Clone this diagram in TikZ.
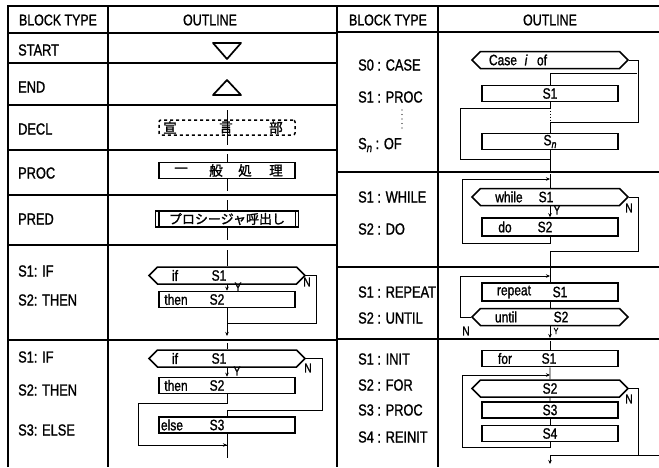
\documentclass[tikz,border=0pt]{standalone}
\usepackage{fontspec}
\setmainfont{Liberation Sans}[FakeStretch=0.8, FakeBold=1.2]
\newfontfamily\jpfont{Noto Sans CJK JP}[FakeBold=1.5]
\usetikzlibrary{shapes.symbols,arrows.meta}
\begin{document}
\begin{tikzpicture}[x=1pt,y=-1pt,
  tline/.style={line width=1.2pt},
  conn/.style={line width=0.9pt},
  box/.style={draw, line width=1.5pt, rectangle, inner sep=0pt, minimum width=136pt, minimum height=16pt, font=\fontsize{15}{15}\selectfont},
  hexa/.style={draw, line width=1.5pt, signal, signal to=west and east, signal pointer angle=90, inner sep=0pt, minimum width=156pt, minimum height=17pt, font=\fontsize{15}{15}\selectfont},
  lbl/.style={anchor=west, inner sep=0pt, font=\fontsize{16}{16}\selectfont},
  hd/.style={inner sep=0pt, font=\fontsize{15.5}{15.5}\selectfont},
  bt/.style={inner sep=0pt, font=\fontsize{15}{15}\selectfont},
  yn/.style={inner sep=0pt, font=\fontsize{13}{13}\selectfont},
  jp/.style={inner sep=0pt, font=\jpfont\fontsize{13.5}{13.5}\selectfont},
  arr/.style={-{Stealth[length=4pt,width=3.5pt]}},
]
\useasboundingbox (0,0) rectangle (659,467);
\fill[white] (0,0) rectangle (659,467);
% ---------------- table ----------------
\draw[tline] (8,467) -- (8,6) -- (659,6);
\draw[tline] (108,6) -- (108,467);
\draw[tline] (337,6) -- (337,467);
\draw[tline] (438,6) -- (438,467);
\foreach \y in {33,63,105,150,195,245,340} \draw[tline] (8,\y) -- (337,\y);
\foreach \y in {32,172,267,339} \draw[tline] (337,\y) -- (659,\y);
% headers
\node[hd] (h1) at (58,20) {BLOCK TYPE};
\node[hd] (h2) at (210,20) {OUTLINE};
\node[hd] (h3) at (388,20) {BLOCK TYPE};
\node[hd] (h4) at (550,20) {OUTLINE};
% left labels
\node[lbl] (l1) at (18,50) {START};
\node[lbl] (l2) at (18,87) {END};
\node[lbl] (l3) at (18,129) {DECL};
\node[lbl] (l4) at (18,173) {PROC};
\node[lbl] (l5) at (18,219) {PRED};
\node[lbl] (l6) at (18,271) {S1: IF};
\node[lbl] (l7) at (18,300) {S2: THEN};
\node[lbl] (l8) at (18,357) {S1: IF};
\node[lbl] (l9) at (18,390) {S2: THEN};
\node[lbl] (l10) at (18,430) {S3: ELSE};
% right labels
\node[lbl] (r1) at (358,65) {S0 : CASE};
\node[lbl] (r2) at (358,97) {S1 : PROC};
\draw[line width=1.4pt, line cap=round, dash pattern=on 0pt off 4.5pt] (402,110) -- (402,131);
\node[lbl] (r3) at (358,145) {S\raisebox{-0.35ex}{\fontsize{12}{12}\selectfont\itshape n} : OF};
\node[lbl] (r4) at (358,197) {S1 : WHILE};
\node[lbl] (r5) at (358,229) {S2 : DO};
\node[lbl] (r6) at (358,292) {S1 : REPEAT};
\node[lbl] (r7) at (358,318) {S2 : UNTIL};
\node[lbl] (r8) at (358,359) {S1 : INIT};
\node[lbl] (r9) at (358,385) {S2 : FOR};
\node[lbl] (r10) at (358,410) {S3 : PROC};
\node[lbl] (r11) at (358,437) {S4 : REINIT};
% ---------------- left outlines ----------------
\draw[line width=1.7pt, line join=round] (213,43) -- (241,43) -- (227,59) -- cycle;
\draw[line width=1.7pt, line join=round] (213,95) -- (241,95) -- (227,80) -- cycle;
% DECL
\coordinate (dA) at (227,110);
\coordinate (dB) at (227,145);
\draw[conn] (dA) -- (dB);
\node[box, dashed, rounded corners=2pt, minimum width=136pt, minimum height=15pt] (decl) at (227,127.5) {};
\node[jp] (d1) at (170,127.5) {宣};
\node[jp] (d2) at (226,127.5) {言};
\node[jp] (d3) at (276,127.5) {部};
% PROC
\coordinate (pA) at (227,154);
\coordinate (pB) at (227,191);
\node[box] (proc) at (227,170.5) {};
\draw[conn] (pA) -- (proc);
\draw[conn] (proc) -- (pB);
\node[jp] (p1) at (181,170.5) {一};
\node[jp] (p2) at (216,170.5) {般};
\node[jp] (p3) at (245,170.5) {処};
\node[jp] (p4) at (276,170.5) {理};
% PRED
\coordinate (qA) at (227,200);
\coordinate (qB) at (227,240);
\node[box, minimum width=143pt] (pred) at (227,219) {};
\draw[line width=1.5pt] ([xshift=4pt]pred.north west) -- ([xshift=4pt]pred.south west);
\draw[line width=1.5pt] ([xshift=-4pt]pred.north east) -- ([xshift=-4pt]pred.south east);
\draw[conn] (qA) -- (pred);
\draw[conn] (pred) -- (qB);
\node[jp, font=\jpfont\fontsize{13}{13}\selectfont] (predt) at (227,219) {プロシージャ呼出し};
% IF - THEN
\coordinate (a1) at (227,250);
\node[hexa] (if1) at (227,275.5) {};
\node[bt] (if1a) at (175,275.5) {if};
\node[bt] (if1b) at (219,275.5) {S1};
\node[box] (th1) at (227,299.5) {};
\node[bt] (th1a) at (176,299.5) {then};
\node[bt] (th1b) at (217,299.5) {S2};
\coordinate (j1) at (227,323);
\coordinate (e1) at (227,336);
\draw[conn] (a1) -- (if1);
\draw[conn, arr] (if1) -- (th1);
\node[yn] (y1) at (238,287) {Y};
\draw[conn] (if1.east) -- ++(10,0) |- (j1);
\node[yn] (n1) at (307,282) {N};
\draw[conn, arr] (th1) -- (e1);
% IF - THEN - ELSE
\coordinate (a2) at (227,343);
\node[hexa] (if2) at (227,358.5) {};
\node[bt] (if2a) at (175,358.5) {if};
\node[bt] (if2b) at (219,358.5) {S1};
\node[box] (th2) at (227,385.5) {};
\node[bt] (th2a) at (176,385.5) {then};
\node[bt] (th2b) at (217,385.5) {S2};
\node[box] (el2) at (227,425) {};
\node[bt] (el2a) at (172,425) {else};
\node[bt] (el2b) at (217,425) {S3};
\coordinate (k2) at (138,403);
\coordinate (m2) at (227,445);
\coordinate (n2) at (227,410);
\coordinate (z2) at (227,458);
\draw[conn] (a2) -- (if2);
\draw[conn, arr] (if2) -- (th2);
\node[yn] (y2) at (237,371) {Y};
\draw[conn] (if2.east) -- ++(16,0) |- (n2);
\node[yn] (n2l) at (308,368) {N};
\draw[conn] (th2) |- (k2) |- (m2);
\draw[conn, arr] (k2 |- m2) -- (m2);
\draw[conn] (n2) -- (el2);
\draw[conn] (el2) -- (z2);
% ---------------- right outlines ----------------
% CASE
\node[hexa] (cs) at (550,60) {};
\node[bt] (csa) at (503,60) {Case};
\node[bt] (csb) at (526,60) {\itshape i};
\node[bt] (csc) at (542,60) {of};
\node[box] (s1) at (550,93.5) {S1};
\node[box] (sn) at (550,141.5) {S\raisebox{-0.35ex}{\fontsize{11}{11}\selectfont\itshape n}};
\coordinate (c0) at (637,73);
\coordinate (c1) at (550,73);
\coordinate (c2) at (550,122);
\coordinate (c3) at (550,108);
\coordinate (c4) at (460,108);
\coordinate (c5) at (550,159);
\coordinate (c6) at (550,171);
\draw[conn] (cs.east) -- ++(9,0) |- (c2);
\draw[conn] (c0) -- (c1) -- (s1);
\draw[conn] (s1) |- (c4) |- (c5);
\draw[conn, dotted] (c3) -- (c2);
\draw[conn] (c2) -- (sn);
\draw[conn] (sn) -- (c6);
% WHILE
\coordinate (w0) at (550,174);
\node[hexa] (wh) at (550,197) {};
\node[bt] (wha) at (509,197) {while};
\node[bt] (whb) at (546,197) {S1};
\node[box, minimum height=18pt] (do) at (550,227) {};
\node[bt] (doa) at (505,227) {do};
\node[bt] (dob) at (545,227) {S2};
\coordinate (w1) at (550,179);
\coordinate (w2) at (462,243);
\coordinate (w3) at (550,251);
\coordinate (w4) at (550,266);
\draw[conn] (w0) -- (wh);
\draw[conn, arr] (wh) -- (do);
\node[yn] (y3) at (557,210) {Y};
\draw[conn, arr] (do) |- (w2) |- (w1);
\draw[conn] (wh.east) -- ++(9,0) |- (w3);
\node[yn] (n3) at (629,208) {N};
\draw[conn] (w3) -- (w4);
% REPEAT
\coordinate (u0) at (550,268);
\coordinate (u1) at (550,276);
\node[box, minimum height=18pt] (rp) at (550,292) {};
\node[bt] (rpa) at (514,292) {repeat};
\node[bt] (rpb) at (560,292) {S1};
\node[hexa] (ut) at (550,317) {};
\node[bt] (uta) at (506,317) {until};
\node[bt] (utb) at (561,317) {S2};
\coordinate (u3) at (550,338);
\draw[conn] (u0) -- (rp);
\draw[conn] (rp) -- (ut);
\draw[conn, arr] (ut.west) -- ++(-10,0) |- (u1);
\node[yn] (n4) at (466,331) {N};
\draw[conn, arr] (ut) -- (u3);
\node[yn, font=\fontsize{9}{9}\selectfont] (y4) at (556,331) {Y};
% FOR
\coordinate (f0) at (550,341);
\node[box] (fr) at (550,358.5) {};
\node[bt] (fra) at (505,358.5) {for};
\node[bt] (frb) at (549,358.5) {S1};
\coordinate (f1) at (550,375);
\node[hexa] (f2) at (550,388.5) {S2};
\node[box] (f3) at (550,410) {S3};
\node[box] (f4) at (550,433.5) {S4};
\coordinate (f5) at (462,447);
\coordinate (f6) at (550,455);
\coordinate (f7) at (550,464);
\coordinate (f8) at (659,455);
\draw[conn] (f0) -- (fr);
\draw[conn] (fr) -- (f2);
\draw[conn] (f2) -- (f3);
\draw[conn] (f3) -- (f4);
\draw[conn, arr] (f4) |- (f5) |- (f1);
\draw[conn] (f2.east) -- ++(9,0) |- (f6);
\node[yn] (n5) at (629,399) {N};
\draw[conn] (f6) -- (f8);
\draw[conn, arr] (f6) -- (f7);
\end{tikzpicture}
\end{document}
